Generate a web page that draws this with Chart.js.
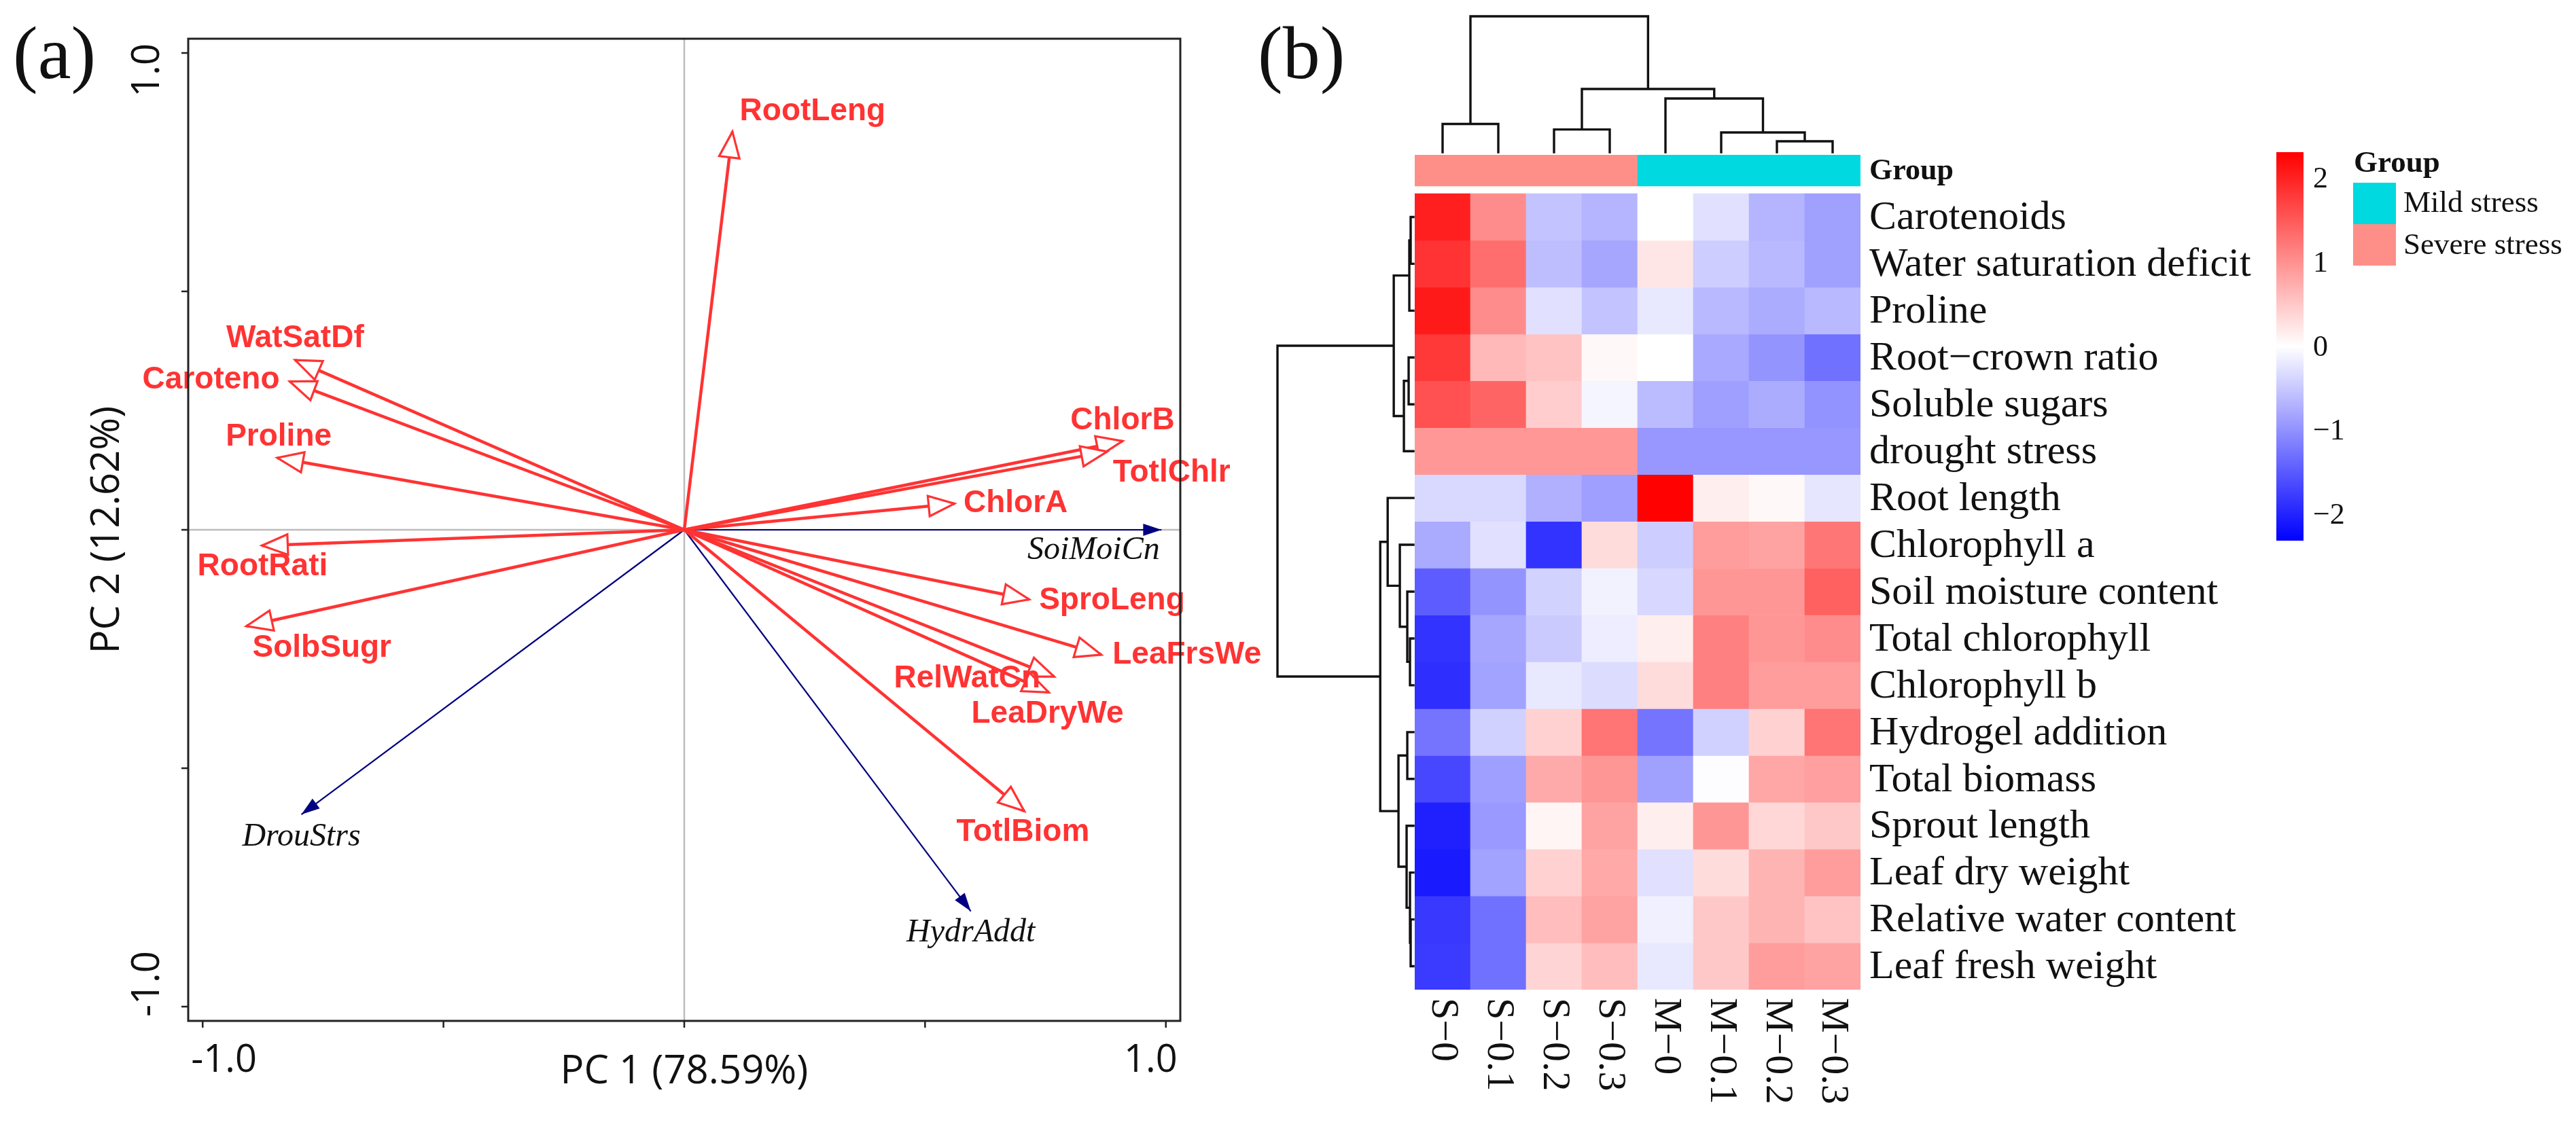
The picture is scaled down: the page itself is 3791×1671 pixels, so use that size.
<!DOCTYPE html>
<html>
<head>
<meta charset="utf-8">
<script src="https://cdn.jsdelivr.net/npm/chart.js@4.4.1/dist/chart.umd.min.js"></script>
<style>
  html, body { margin: 0; padding: 0; background: #fff; }
  body { width: 3791px; height: 1671px; position: relative; overflow: hidden; }
  #pca { position: absolute; left: 0; top: 0; width: 1900px; height: 1671px; }
  #heat { position: absolute; left: 1840px; top: 0; width: 1951px; height: 1671px; }
</style>
</head>
<body>
<canvas id="pca" width="1900" height="1671"></canvas>
<canvas id="heat" width="1951" height="1671"></canvas>
<script>
// ---------- (a) PCA biplot data ----------
const spVars = ['WatSatDf', 'Caroteno', 'Proline', 'RootRati', 'SolbSugr', 'RootLeng', 'ChlorB',
  'TotlChlr', 'ChlorA', 'SproLeng', 'LeaFrsWe', 'RelWatCn', 'LeaDryWe', 'TotlBiom'];
const spPC1 = [-0.808, -0.819, -0.845, -0.877, -0.909, 0.100, 0.910, 0.878, 0.561, 0.716, 0.866, 0.768, 0.757, 0.706];
const spPC2 = [0.356, 0.311, 0.151, -0.033, -0.202, 0.835, 0.186, 0.164, 0.055, -0.146, -0.262, -0.308, -0.341, -0.590];

const envVars = ['DrouStrs', 'SoiMoiCn', 'HydrAddt'];
const envPC1 = [-0.795, 0.991, 0.595];
const envPC2 = [-0.597, 0.000, -0.800];

const pcaTicks = [-1, -0.5, 0, 0.5, 1];
const pcaTickText = ['-1.0', '', '', '', '1.0'];
const pc1Title = 'PC 1 (78.59%)';
const pc2Title = 'PC 2 (12.62%)';

// ---------- (b) heatmap data ----------
const colNames = ['S\u22120', 'S\u22120.1', 'S\u22120.2', 'S\u22120.3', 'M\u22120', 'M\u22120.1', 'M\u22120.2', 'M\u22120.3'];
const colGroup = ['Severe stress', 'Severe stress', 'Severe stress', 'Severe stress',
  'Mild stress', 'Mild stress', 'Mild stress', 'Mild stress'];
const rowNames = ['Carotenoids', 'Water saturation deficit', 'Proline', 'Root\u2212crown ratio', 'Soluble sugars',
  'drought stress', 'Root length', 'Chlorophyll a', 'Soil moisture content', 'Total chlorophyll', 'Chlorophyll b',
  'Hydrogel addition', 'Total biomass', 'Sprout length', 'Leaf dry weight', 'Relative water content', 'Leaf fresh weight'];

const carotenoids      = [2.03, 1.04, -0.54, -0.68, 0.00, -0.27, -0.68, -0.86];
const waterSatDeficit  = [1.85, 1.31, -0.59, -0.81, 0.23, -0.45, -0.63, -0.86];
const proline          = [2.07, 1.04, -0.27, -0.54, -0.21, -0.63, -0.75, -0.63];
const rootCrownRatio   = [1.80, 0.63, 0.54, 0.06, 0.00, -0.78, -0.97, -1.29];
const solubleSugars    = [1.58, 1.40, 0.45, -0.09, -0.62, -0.87, -0.75, -0.98];
const droughtStress    = [0.94, 0.94, 0.94, 0.94, -0.94, -0.94, -0.94, -0.94];
const rootLength       = [-0.34, -0.34, -0.72, -0.87, 2.30, 0.15, 0.06, -0.23];
const chlorophyllA     = [-0.77, -0.27, -1.85, 0.32, -0.45, 0.90, 0.84, 1.24];
const soilMoisture     = [-1.47, -0.97, -0.41, -0.12, -0.36, 0.95, 0.95, 1.44];
const totalChlorophyll = [-1.85, -0.81, -0.48, -0.16, 0.15, 1.15, 0.95, 1.04];
const chlorophyllB     = [-1.89, -0.84, -0.21, -0.32, 0.32, 1.15, 0.90, 0.90];
const hydrogelAddition = [-1.26, -0.42, 0.42, 1.26, -1.26, -0.42, 0.42, 1.26];
const totalBiomass     = [-1.67, -0.87, 0.77, 0.95, -0.86, -0.02, 0.81, 0.87];
const sproutLength     = [-2.02, -0.92, 0.09, 0.84, 0.15, 0.95, 0.36, 0.50];
const leafDryWeight    = [-2.07, -0.84, 0.42, 0.78, -0.27, 0.32, 0.68, 0.90];
const relWaterContent  = [-1.80, -1.29, 0.60, 0.84, -0.14, 0.50, 0.68, 0.54];
const leafFreshWeight  = [-1.78, -1.29, 0.39, 0.60, -0.21, 0.50, 0.90, 0.84];
const heatRows = [carotenoids, waterSatDeficit, proline, rootCrownRatio, solubleSugars, droughtStress,
  rootLength, chlorophyllA, soilMoisture, totalChlorophyll, chlorophyllB, hydrogelAddition, totalBiomass,
  sproutLength, leafDryWeight, relWaterContent, leafFreshWeight];

// hclust style merges: negative = leaf (1-based, display order), positive = earlier merge
const colMerge = [[-1, -2], [-3, -4], [-7, -8], [-6, 3], [-5, 4], [2, 5], [1, 6]];
const colHeight = [41.5, 33.4, 16, 29, 79, 93, 200];
const rowMerge = [[-1, -2], [1, -3], [-4, -5], [3, -6], [2, 4], [-10, -11], [-9, 6], [-8, 7], [-7, 8],
  [-16, -17], [-15, 10], [-14, 11], [-12, -13], [13, 12], [9, 14], [5, 15]];
const rowHeight = [4, 6, 7, 14, 29, 5, 9, 20, 38, 4, 5, 10, 9, 22, 49, 201];

const colorLimit = 2.31;
const colorTicks = [2, 1, 0, -1, -2];
const groupNames = ['Mild stress', 'Severe stress'];
const groupColors = ['#00d9e0', '#fe8f88'];

// ---------- styles / layout ----------
const RED = '#ff3333', NAVY = '#000080';
const SANS = '"Liberation Sans", Arial, sans-serif';
const SERIF = '"Liberation Serif", "Times New Roman", serif';
const AXF = '"Open Sans", "Noto Sans", sans-serif';
const LABEL_OFFSET = {
  WatSatDf: [0, -32], Caroteno: [-116, -2], Proline: [2, -31], RootRati: [1, 31], SolbSugr: [111, 33],
  RootLeng: [118, -30], ChlorB: [0, -30], TotlChlr: [95, 31], ChlorA: [90, 0], SproLeng: [122, 2],
  LeaFrsWe: [126, 0], RelWatCn: [-128, 3], LeaDryWe: [-2, 32], TotlBiom: [-2, 31],
  DrouStrs: [0, 33], SoiMoiCn: [-100, 30], HydrAddt: [0, 32]
};

function arrowHead(ctx, ox, oy, tx, ty, len, half) {
  const ang = Math.atan2(ty - oy, tx - ox), c = Math.cos(ang), s = Math.sin(ang);
  const bx = tx - len * c, by = ty - len * s;
  ctx.beginPath();
  ctx.moveTo(tx, ty);
  ctx.lineTo(bx - half * s, by + half * c);
  ctx.lineTo(bx + half * s, by - half * c);
  ctx.closePath();
}

const pcaDecor = {
  id: 'pcaDecor',
  beforeDatasetsDraw(chart) {
    const { ctx, chartArea: a, scales: { x, y } } = chart;
    ctx.save();
    ctx.strokeStyle = '#bdbdbd';
    ctx.lineWidth = 2.5;
    ctx.beginPath();
    ctx.moveTo(x.getPixelForValue(0), a.top); ctx.lineTo(x.getPixelForValue(0), a.bottom);
    ctx.moveTo(a.left, y.getPixelForValue(0)); ctx.lineTo(a.right, y.getPixelForValue(0));
    ctx.stroke();
    ctx.restore();
  },
  afterDatasetsDraw(chart) {
    const { ctx, chartArea: a, scales: { x, y } } = chart;
    const ox = x.getPixelForValue(0), oy = y.getPixelForValue(0);
    ctx.save();
    // arrow heads
    chart.data.datasets.forEach(ds => {
      const p = ds.data[1];
      const tx = x.getPixelForValue(p.x), ty = y.getPixelForValue(p.y);
      if (ds.kind === 'sp') {
        arrowHead(ctx, ox, oy, tx, ty, 38, 15);
        ctx.fillStyle = '#fff'; ctx.fill();
        ctx.strokeStyle = RED; ctx.lineWidth = 3.2; ctx.lineJoin = 'miter'; ctx.stroke();
      } else {
        arrowHead(ctx, ox, oy, tx, ty, 27, 9);
        ctx.fillStyle = NAVY; ctx.fill();
      }
    });
    // labels
    ctx.textAlign = 'center';
    ctx.textBaseline = 'middle';
    chart.data.datasets.forEach(ds => {
      const p = ds.data[1], off = LABEL_OFFSET[ds.label];
      const tx = x.getPixelForValue(p.x) + off[0], ty = y.getPixelForValue(p.y) + off[1];
      if (ds.kind === 'sp') { ctx.font = 'bold 46px ' + SANS; ctx.fillStyle = RED; }
      else { ctx.font = 'italic 48px ' + SERIF; ctx.fillStyle = '#111'; }
      ctx.fillText(ds.label, tx, ty);
    });
    // frame
    ctx.strokeStyle = '#222'; ctx.lineWidth = 3;
    ctx.strokeRect(a.left, a.top, a.width, a.height);
    // ticks
    ctx.lineWidth = 2.5;
    ctx.beginPath();
    pcaTicks.forEach(t => {
      const px = x.getPixelForValue(t), py = y.getPixelForValue(t);
      ctx.moveTo(px, a.bottom); ctx.lineTo(px, a.bottom + 10);
      ctx.moveTo(a.left - 10, py); ctx.lineTo(a.left, py);
    });
    ctx.stroke();
    // tick labels
    ctx.fillStyle = '#111';
    ctx.font = '56px ' + AXF;
    ctx.textBaseline = 'middle';
    pcaTicks.forEach((t, i) => {
      const txt = pcaTickText[i];
      if (!txt) return;
      const px = x.getPixelForValue(t), py = y.getPixelForValue(t);
      ctx.textAlign = t < 0 ? 'left' : 'right';
      ctx.fillText(txt, t < 0 ? px - 17 : px + 17, a.bottom + 59);
      ctx.save();
      ctx.translate(a.left - 59, py);
      ctx.rotate(-Math.PI / 2);
      ctx.textAlign = t < 0 ? 'left' : 'right';
      ctx.fillText(txt, t < 0 ? -15 : 14, 0);
      ctx.restore();
    });
    // axis titles
    ctx.font = '58px ' + AXF;
    ctx.textAlign = 'center';
    ctx.fillText(pc1Title, ox, a.bottom + 75);
    ctx.save();
    ctx.translate(a.left - 119, oy);
    ctx.rotate(-Math.PI / 2);
    ctx.fillText(pc2Title, 0, 0);
    ctx.restore();
    // panel letter
    ctx.font = '110px ' + SERIF;
    ctx.textAlign = 'left';
    ctx.fillText('(a)', 19, 86);
    ctx.restore();
  }
};

const arrowSets = spVars.map((n, i) => ({
  label: n, kind: 'sp', data: [{ x: 0, y: 0 }, { x: spPC1[i], y: spPC2[i] }],
  borderColor: RED, borderWidth: 4.5
})).concat(envVars.map((n, i) => ({
  label: n, kind: 'env', data: [{ x: 0, y: 0 }, { x: envPC1[i], y: envPC2[i] }],
  borderColor: NAVY, borderWidth: 2.2
}))).map(d => Object.assign(d, { showLine: true, pointRadius: 0, fill: false }));

new Chart(document.getElementById('pca'), {
  type: 'scatter',
  data: { datasets: arrowSets },
  options: {
    responsive: false, animation: false, events: [],
    layout: { padding: { left: 277, top: 57, right: 163, bottom: 168 } },
    scales: {
      x: { type: 'linear', min: -1.03, max: 1.03, display: false },
      y: { type: 'linear', min: -1.03, max: 1.03, display: false }
    },
    plugins: { legend: { display: false }, tooltip: { enabled: false } }
  },
  plugins: [pcaDecor]
});

// ---------- (b) heatmap ----------
function heatColor(v) {
  const t = Math.max(-1, Math.min(1, v / colorLimit));
  if (t >= 0) { const g = Math.round(255 * (1 - t)); return `rgb(255,${g},${g})`; }
  const g = Math.round(255 * (1 + t));
  return `rgb(${g},${g},255)`;
}

function treeSegments(merge, heights, leafPos) {
  const nodes = [], segs = [];
  const get = k => (k < 0 ? { p: leafPos(-k - 1), h: 0 } : nodes[k - 1]);
  merge.forEach(([m1, m2], i) => {
    const A = get(m1), B = get(m2), h = heights[i];
    segs.push([A, B, h]);
    nodes.push({ p: (A.p + B.p) / 2, h });
  });
  return segs;
}

const GROUP_BAR = [-0.827, -0.16];
const TREE_PX = 200;

const heatDecor = {
  id: 'heatDecor',
  afterDatasetsDraw(chart) {
    const { ctx, chartArea: a, scales: { x, y } } = chart;
    const cellBottom = y.getPixelForValue(rowNames.length);
    ctx.save();
    ctx.strokeStyle = '#111'; ctx.lineWidth = 3.4; ctx.lineCap = 'square';
    // column dendrogram
    const base = a.top - 4, kc = TREE_PX / Math.max(...colHeight);
    ctx.beginPath();
    treeSegments(colMerge, colHeight, j => x.getPixelForValue(j)).forEach(([A, B, h]) => {
      ctx.moveTo(A.p, base - A.h * kc); ctx.lineTo(A.p, base - h * kc);
      ctx.lineTo(B.p, base - h * kc); ctx.lineTo(B.p, base - B.h * kc);
    });
    ctx.stroke();
    // row dendrogram
    const lx = a.left - 2, kr = TREE_PX / Math.max(...rowHeight);
    ctx.beginPath();
    treeSegments(rowMerge, rowHeight, i => y.getPixelForValue(i + 0.5)).forEach(([A, B, h]) => {
      ctx.moveTo(lx - A.h * kr, A.p); ctx.lineTo(lx - h * kr, A.p);
      ctx.lineTo(lx - h * kr, B.p); ctx.lineTo(lx - B.h * kr, B.p);
    });
    ctx.stroke();

    // row labels
    ctx.fillStyle = '#111';
    ctx.textAlign = 'left'; ctx.textBaseline = 'middle';
    ctx.font = '60px ' + SERIF;
    rowNames.forEach((n, i) => ctx.fillText(n, a.right + 13, y.getPixelForValue(i + 0.5) + 2));
    ctx.font = 'bold 44px ' + SERIF;
    ctx.fillText('Group', a.right + 13, y.getPixelForValue((GROUP_BAR[0] + GROUP_BAR[1]) / 2) + 2);
    // column labels
    ctx.font = '58px ' + SERIF;
    colNames.forEach((n, j) => {
      ctx.save();
      ctx.translate(x.getPixelForValue(j), cellBottom + 12);
      ctx.rotate(Math.PI / 2);
      ctx.fillText(n, 0, 0);
      ctx.restore();
    });

    // colour bar
    const cbX = a.right + 612, cbW = 40, cbTop = 224, cbBot = 796;
    const grad = ctx.createLinearGradient(0, cbTop, 0, cbBot);
    grad.addColorStop(0, heatColor(colorLimit));
    grad.addColorStop(0.5, heatColor(0));
    grad.addColorStop(1, heatColor(-colorLimit));
    ctx.fillStyle = grad;
    ctx.fillRect(cbX, cbTop, cbW, cbBot - cbTop);
    ctx.fillStyle = '#111';
    ctx.font = '44px ' + SERIF;
    const cbMid = (cbTop + cbBot) / 2, cbUnit = (cbBot - cbTop) / (2 * colorLimit);
    colorTicks.forEach(t => {
      ctx.fillText(t < 0 ? '\u2212' + Math.abs(t) : String(t), cbX + 54, cbMid - t * cbUnit + 2);
    });

    // group legend
    const lgX = a.right + 725;
    ctx.font = 'bold 45px ' + SERIF;
    ctx.fillText('Group', lgX + 1, 241);
    groupNames.forEach((g, i) => {
      ctx.fillStyle = groupColors[i];
      ctx.fillRect(lgX, 269 + i * 61, 63, 61);
      ctx.fillStyle = '#111';
      ctx.font = '45px ' + SERIF;
      ctx.fillText(g, lgX + 74, 300 + i * 62);
    });

    // panel letter
    ctx.font = '110px ' + SERIF;
    ctx.fillText('(b)', 11, 86);
    ctx.restore();
  }
};

const heatSets = rowNames.map((n, i) => ({
  label: n,
  data: colNames.map(() => [i, i + 1]),
  backgroundColor: heatRows[i].map(heatColor)
}));
heatSets.push({
  label: 'Group',
  data: colNames.map(() => GROUP_BAR.slice()),
  backgroundColor: colGroup.map(g => groupColors[groupNames.indexOf(g)])
});

new Chart(document.getElementById('heat'), {
  type: 'bar',
  data: { labels: colNames, datasets: heatSets.map(d => Object.assign(d, {
    borderWidth: 0, barPercentage: 1, categoryPercentage: 1, grouped: false
  })) },
  options: {
    responsive: false, animation: false, events: [],
    layout: { padding: { left: 242, top: 228, right: 1053, bottom: 214 } },
    scales: {
      x: { type: 'category', display: false, offset: true },
      y: { type: 'linear', min: -0.827, max: rowNames.length, reverse: true, display: false }
    },
    plugins: { legend: { display: false }, tooltip: { enabled: false } }
  },
  plugins: [heatDecor]
});
</script>
</body>
</html>
